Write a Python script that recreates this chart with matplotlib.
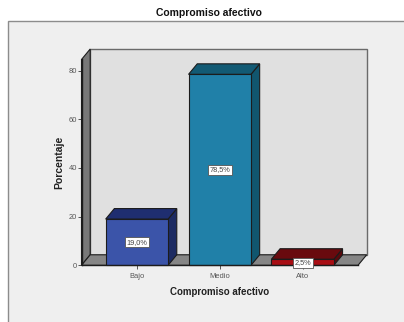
import matplotlib
matplotlib.use("Agg")
import matplotlib.pyplot as plt
from matplotlib.patches import Polygon, Rectangle

plt.rcParams["font.family"] = ["Liberation Sans", "DejaVu Sans"]

categories = ["Bajo", "Medio", "Alto"]
percentages = [19.0, 78.5, 2.5]
value_labels = ["19,0%", "78,5%", "2,5%"]
y_ticks = [0, 20, 40, 60, 80]
front_colors = ["#3B54A9", "#2080A8", "#A80E14"]
top_colors = ["#1F2E70", "#125A74", "#690A0E"]
side_colors = ["#1D2B62", "#11566E", "#5A090C"]

W, H = 404, 322
EDGE = "#1c1c1c"
BAR_WIDTH = 0.753
DX = 0.105    # oblique depth along x, in category units
DY = 4.32     # oblique depth along y, in percentage units
Y_TOP = 84.6

fig = plt.figure(figsize=(W / 100, H / 100), dpi=100, facecolor="white")

# Outer chart panel, kept behind the axes
fig.add_artist(Rectangle((7.5 / W, -0.02), 0.99, (H - 21) / H + 0.02,
                         transform=fig.transFigure, facecolor="#EFEFEF",
                         edgecolor="#8c8c8c", linewidth=1.0, zorder=-1))

ax = fig.add_axes([81.5 / W, 1 - 265.3 / H, (358 - 81.5) / W, (265.3 - 59.5) / H])
ax.set_xlim(-0.668, 2.668)
ax.set_ylim(0, Y_TOP)
ax.patch.set_alpha(0)
for spine in ax.spines.values():
    spine.set_visible(False)

x0, x1 = ax.get_xlim()

def poly(points, face, z, edge=EDGE, lw=0.8):
    ax.add_patch(Polygon(points, closed=True, facecolor=face, edgecolor=edge,
                         linewidth=lw, clip_on=False, zorder=z, joinstyle="miter"))

# Back wall, left wall and floor of the 3D frame
poly([(x0 + DX, DY), (x1 + DX, DY), (x1 + DX, Y_TOP + DY), (x0 + DX, Y_TOP + DY)],
     "#E0E0E0", 1, edge="#6a6a6a", lw=1.0)
poly([(x0, 0), (x0 + DX, DY), (x0 + DX, Y_TOP + DY), (x0, Y_TOP)], "#787878", 2)
poly([(x0, 0), (x1, 0), (x1 + DX, DY), (x0 + DX, DY)], "#868686", 2)

# Oblique bars
for i, value in enumerate(percentages):
    left, right = i - BAR_WIDTH / 2, i + BAR_WIDTH / 2
    poly([(right, 0), (right + DX, DY), (right + DX, value + DY), (right, value)],
         side_colors[i], 3)
    poly([(left, value), (right, value), (right + DX, value + DY), (left + DX, value + DY)],
         top_colors[i], 3)
    poly([(left, 0), (right, 0), (right, value), (left, value)], front_colors[i], 4)
    ax.text(i, value / 2 if value > 5 else 1.1, value_labels[i], ha="center", va="center",
            fontsize=5.3, color="#444444", zorder=6, clip_on=False,
            bbox=dict(boxstyle="square,pad=0.22", facecolor="white",
                      edgecolor="#555555", linewidth=0.6))

ax.plot([x0, x1], [0, 0], color=EDGE, linewidth=1.0, zorder=5, clip_on=False)
ax.plot([x0, x0], [0, Y_TOP], color=EDGE, linewidth=1.0, zorder=5, clip_on=False)

ax.set_xticks(range(len(categories)), categories)
ax.set_yticks(y_ticks)
ax.tick_params(axis="both", labelsize=5.4, colors="#555555", length=3, width=0.7)
ax.tick_params(axis="x", pad=2.5)
ax.tick_params(axis="y", pad=0.3)
ax.set_xlabel("Compromiso afectivo", fontsize=7, fontweight="bold", color="#222222", labelpad=5)
ax.set_ylabel("Porcentaje", fontsize=7.5, fontweight="bold", color="#222222", labelpad=3)

fig.text(209 / W, 1 - 12.5 / H, "Compromiso afectivo", ha="center", va="center",
         fontsize=7.5, fontweight="bold", color="#111111")

fig.savefig("out.png", dpi=100, facecolor="white")
